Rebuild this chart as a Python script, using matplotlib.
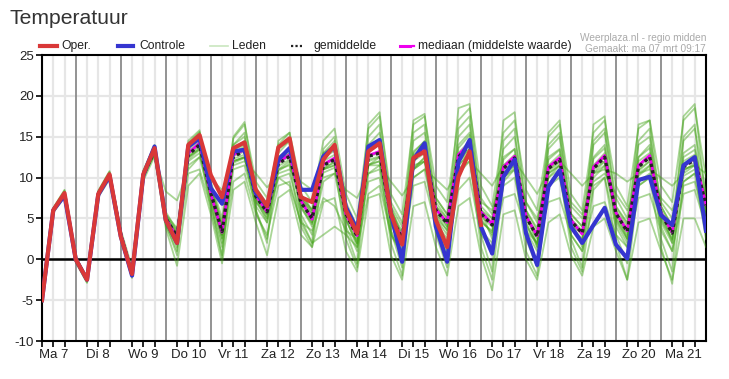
import numpy as np
import matplotlib
matplotlib.use('Agg')
import matplotlib.pyplot as plt
from matplotlib.lines import Line2D

plt.rcParams['font.family'] = ['Liberation Sans', 'DejaVu Sans']
plt.rcParams['axes.unicode_minus'] = False

## Data
# time in hours from Ma 7 00:00, one value every 6 hours
hours = list(range(6, 361, 6))
day_labels = ['Ma 7', 'Di 8', 'Wo 9', 'Do 10', 'Vr 11', 'Za 12', 'Zo 13', 'Ma 14',
              'Di 15', 'Wo 16', 'Do 17', 'Vr 18', 'Za 19', 'Zo 20', 'Ma 21']

# operational run (stops after ~10 days)
oper = [-5.0, 6.0, 8.1, 0.0, -2.5, 8.0, 10.4, 2.8, -1.8, 10.4, 13.6, 4.8,
        2.0, 14.0, 15.2, 10.3, 7.6, 13.6, 14.3, 8.5, 6.5, 13.7, 14.8, 7.6,
        7.0, 12.2, 14.0, 6.0, 3.2, 13.2, 14.2, 5.6, 1.8, 12.4, 13.2, 4.8,
        1.5, 10.1, 13.2, 4.2]

controle = [-5.0, 6.0, 7.8, 0.0, -2.5, 7.9, 10.2, 2.8, -2.0, 10.3, 13.8, 4.8,
            2.0, 13.8, 14.8, 8.7, 6.8, 13.2, 13.4, 8.1, 6.5, 12.2, 13.6, 8.5,
            8.5, 12.6, 13.8, 6.4, 3.6, 13.8, 14.6, 5.6, -0.3, 12.2, 14.2, 4.0,
            -0.3, 11.9, 14.6, 4.0, 0.7, 10.1, 12.2, 3.2, -0.7, 8.9, 10.9, 4.0,
            2.0, 4.2, 6.3, 1.8, 0.1, 9.7, 10.1, 5.4, 4.2, 11.5, 12.5, 3.5]

gemiddelde = [-5.0, 6.0, 8.0, 0.0, -2.5, 8.0, 10.3, 3.0, -1.8, 10.3, 13.3, 5.0,
              2.8, 12.8, 14.0, 8.1, 3.4, 12.6, 13.2, 7.7, 5.8, 11.7, 12.6, 7.0,
              5.0, 11.5, 12.2, 5.6, 2.8, 12.6, 13.0, 5.2, 2.6, 12.2, 13.4, 6.0,
              4.4, 12.5, 14.0, 5.6, 4.2, 11.1, 12.4, 5.2, 2.8, 11.1, 12.2, 4.7,
              3.2, 11.1, 12.5, 5.6, 3.4, 11.3, 12.5, 5.6, 3.2, 11.3, 12.2, 6.6]

mediaan = [-5.0, 6.0, 8.0, 0.0, -2.5, 8.0, 10.3, 3.0, -1.8, 10.3, 13.4, 5.0,
           2.7, 13.0, 14.2, 8.0, 3.3, 12.8, 13.4, 7.8, 5.8, 11.9, 12.8, 7.2,
           4.9, 11.6, 12.4, 5.5, 2.9, 12.7, 13.2, 5.1, 2.7, 12.4, 13.6, 6.1,
           4.5, 12.8, 14.2, 5.8, 4.3, 11.3, 12.6, 5.3, 2.9, 11.3, 12.4, 4.8,
           3.1, 11.3, 12.7, 5.7, 3.5, 11.5, 12.7, 5.7, 3.3, 11.4, 12.4, 6.7]

# ensemble members (leden)
leden = [
    [-4.8, 6.3, 8.5, 0.3, -2.3, 8.4, 10.8, 3.3, -1.4, 10.9, 13.9, 5.8,
     3.5, 14.0, 15.5, 9.5, 5.0, 14.8, 16.5, 9.5, 7.5, 14.0, 15.5, 9.0,
     7.0, 14.5, 16.0, 8.0, 5.0, 16.0, 17.5, 8.0, 5.5, 16.5, 17.5, 9.0,
     7.0, 17.0, 18.5, 9.0, 6.5, 15.5, 17.0, 8.5, 6.0, 15.0, 16.5, 8.0,
     6.0, 15.5, 17.0, 9.0, 6.5, 16.0, 17.0, 9.0, 7.0, 17.0, 18.5, 10.0],
    [-5.2, 5.7, 7.6, -0.4, -2.9, 7.6, 9.8, 2.5, -2.3, 9.6, 12.6, 3.8,
     -0.8, 9.0, 10.5, 5.5, -0.5, 8.5, 9.5, 4.5, 0.5, 7.5, 8.5, 3.0,
     1.5, 7.0, 7.5, 1.0, -1.5, 7.5, 8.0, 0.5, -2.5, 6.5, 7.0, 1.5,
     -2.0, 6.5, 7.5, 0.5, -3.8, 5.5, 6.0, 0.0, -2.5, 4.5, 5.5, 0.5,
     -2.0, 4.0, 5.0, 1.0, -2.5, 4.5, 5.0, 1.0, -2.5, 5.0, 5.0, 1.5],
    [-5.0, 6.1, 8.2, 0.1, -2.4, 8.2, 10.5, 3.2, -1.6, 10.6, 13.5, 5.3,
     3.2, 13.3, 14.6, 8.8, 4.0, 13.4, 14.0, 8.3, 6.5, 12.5, 13.5, 7.6,
     5.6, 12.4, 13.3, 6.3, 3.6, 13.5, 14.2, 6.0, 3.4, 13.2, 14.4, 7.0,
     5.0, 13.6, 15.2, 6.5, 5.0, 12.2, 13.5, 6.0, 3.8, 12.2, 13.4, 5.6,
     4.0, 12.3, 13.6, 6.4, 4.3, 12.5, 13.6, 6.5, 4.0, 12.5, 13.4, 7.5],
    [-5.0, 5.9, 7.9, -0.1, -2.6, 7.8, 10.1, 2.8, -2.0, 10.0, 13.0, 4.6,
     2.2, 12.2, 13.4, 7.4, 2.6, 11.8, 12.4, 7.0, 5.0, 10.8, 11.7, 6.3,
     4.3, 10.6, 11.2, 4.8, 1.9, 11.6, 12.0, 4.4, 1.7, 11.2, 12.4, 5.1,
     3.6, 11.5, 12.9, 4.7, 3.3, 10.0, 11.3, 4.4, 1.8, 10.0, 11.0, 3.8,
     2.4, 10.0, 11.4, 4.8, 2.5, 10.2, 11.4, 4.8, 2.4, 10.2, 11.0, 5.7],
    [-4.9, 6.2, 8.3, 0.2, -2.2, 8.3, 10.7, 3.6, -1.0, 10.8, 12.6, 8.3,
     7.2, 11.0, 12.5, 9.8, 8.5, 11.5, 12.0, 10.5, 8.8, 10.5, 11.0, 9.5,
     8.5, 10.0, 10.5, 8.5, 7.5, 10.5, 11.5, 9.5, 7.8, 10.0, 11.0, 9.8,
     8.5, 11.0, 12.0, 10.5, 9.0, 11.5, 12.0, 10.0, 8.0, 11.0, 12.0, 10.5,
     9.0, 10.5, 11.0, 10.5, 9.5, 10.5, 11.0, 10.0, 9.0, 10.5, 11.5, 10.5],
    [-5.0, 6.0, 8.0, 0.0, -2.5, 8.1, 10.2, 2.9, -1.9, 10.2, 13.1, 4.2,
     1.0, 10.5, 11.0, 6.5, 1.5, 9.5, 10.5, 5.5, 3.0, 9.0, 9.5, 4.5,
     3.5, 7.5, 6.5, 3.5, 2.5, 9.5, 10.0, 3.0, 0.5, 9.0, 9.5, 4.0,
     1.0, 8.5, 10.0, 3.0, 1.5, 7.5, 8.0, 3.5, 2.0, 7.0, 7.5, 3.0,
     1.0, 6.5, 7.0, 3.0, 1.5, 7.5, 8.0, 3.5, 1.0, 8.0, 8.5, 4.0],
    [-5.1, 6.2, 8.4, -0.3, -2.8, 8.2, 10.6, 2.6, -2.1, 10.7, 14.0, 4.3,
     0.5, 14.5, 15.8, 7.0, 0.2, 14.0, 15.5, 6.0, 2.0, 14.5, 15.5, 5.0,
     2.0, 13.5, 15.0, 3.5, -0.5, 15.0, 16.5, 3.5, -1.0, 15.5, 16.5, 4.0,
     0.5, 16.0, 17.5, 3.0, -1.5, 14.5, 16.0, 2.5, -1.0, 14.0, 15.5, 2.5,
     -1.0, 14.5, 16.0, 3.0, -0.5, 14.5, 16.0, 2.5, -1.5, 15.0, 16.5, 3.5],
    [-5.0, 6.1, 8.0, 0.0, -2.4, 8.0, 10.3, 3.1, -1.7, 10.4, 13.4, 5.5,
     3.8, 13.0, 14.2, 9.0, 4.5, 13.0, 13.8, 8.5, 6.8, 12.0, 13.0, 8.0,
     6.0, 11.0, 12.0, 6.5, 4.0, 11.5, 12.5, 7.0, 4.5, 11.5, 12.0, 7.5,
     5.5, 12.0, 13.0, 7.0, 6.0, 10.5, 11.5, 7.0, 5.0, 10.0, 11.5, 7.0,
     5.5, 9.5, 10.5, 8.0, 6.0, 9.5, 10.5, 7.5, 6.0, 9.5, 10.5, 8.0],
    [-5.0, 6.0, 8.1, 0.1, -2.5, 7.9, 10.4, 3.0, -1.8, 10.1, 13.2, 4.9,
     2.5, 13.5, 15.0, 8.0, 2.5, 13.5, 14.5, 7.5, 4.5, 12.5, 13.5, 6.5,
     4.0, 12.5, 13.5, 5.0, 1.5, 13.5, 14.5, 4.5, 1.0, 13.0, 14.5, 5.0,
     3.0, 14.0, 15.5, 5.0, 3.0, 12.5, 13.5, 4.5, 1.5, 12.5, 13.5, 4.0,
     2.0, 12.5, 14.0, 4.5, 2.0, 12.5, 14.0, 4.5, 2.0, 13.0, 14.0, 5.5],
    [-4.9, 6.0, 7.9, 0.0, -2.6, 8.0, 10.2, 3.0, -1.8, 10.3, 13.3, 5.1,
     3.0, 12.5, 13.5, 8.5, 3.8, 12.0, 12.5, 8.0, 6.0, 11.0, 12.0, 7.5,
     6.0, 11.0, 11.5, 6.0, 3.5, 11.5, 11.5, 6.0, 3.0, 11.0, 12.0, 6.5,
     5.0, 11.5, 13.0, 6.0, 5.0, 10.0, 11.0, 6.0, 3.5, 10.5, 11.5, 5.5,
     4.0, 11.0, 12.0, 6.5, 4.5, 11.0, 12.0, 6.5, 4.0, 11.0, 11.5, 7.0],
    [-5.0, 6.2, 8.2, 0.2, -2.3, 8.1, 10.5, 3.2, -1.6, 10.5, 13.6, 5.4,
     3.4, 13.8, 15.2, 9.0, 4.2, 14.0, 15.0, 8.8, 6.8, 13.0, 14.5, 8.0,
     6.0, 13.0, 14.0, 7.0, 4.0, 14.0, 15.5, 6.5, 4.0, 14.5, 15.5, 7.5,
     5.5, 15.0, 16.5, 7.5, 5.5, 13.5, 15.0, 7.0, 4.5, 13.5, 15.0, 6.5,
     5.0, 14.0, 15.5, 7.5, 5.0, 14.0, 15.0, 7.0, 5.0, 14.5, 16.0, 8.0],
    [-5.1, 5.8, 7.8, -0.2, -2.7, 7.8, 10.0, 2.7, -2.0, 9.9, 12.9, 4.4,
     1.8, 11.5, 12.5, 7.0, 2.0, 11.0, 11.5, 6.5, 4.5, 10.0, 10.5, 5.5,
     3.0, 9.5, 10.5, 4.0, 1.0, 10.5, 11.0, 3.5, 0.5, 10.0, 11.0, 4.5,
     2.5, 10.5, 12.0, 3.5, 2.0, 9.0, 10.0, 3.5, 1.0, 9.0, 10.0, 3.0,
     1.0, 9.0, 10.0, 4.0, 1.5, 9.0, 10.0, 4.0, 1.0, 9.0, 9.5, 4.5],
    [-5.0, 6.0, 8.0, 0.0, -2.5, 8.0, 10.3, 3.0, -1.8, 10.3, 13.3, 5.0,
     2.8, 12.8, 14.0, 8.1, 3.4, 12.6, 13.2, 7.7, 5.8, 11.7, 12.6, 7.0,
     5.0, 11.5, 12.2, 5.6, 2.8, 12.6, 13.0, 5.2, 2.6, 12.2, 13.4, 6.0,
     4.4, 12.5, 14.0, 5.6, 4.2, 11.1, 12.4, 5.2, 2.8, 11.1, 12.2, 4.7,
     3.2, 11.1, 12.5, 5.6, 3.4, 11.3, 12.5, 5.6, 3.2, 11.3, 12.2, 6.6],
    [-5.0, 6.0, 8.0, 0.0, -2.5, 8.0, 10.3, 3.0, -1.8, 10.2, 13.2, 4.8,
     2.5, 12.0, 13.0, 7.5, 3.0, 12.0, 12.5, 7.0, 5.5, 10.0, 9.0, 4.5,
     2.0, 3.0, 4.0, 3.0, 1.5, 8.0, 9.0, 3.0, 1.0, 11.0, 12.5, 5.5,
     3.5, 12.0, 13.5, 4.5, 3.5, 10.5, 11.5, 4.0, 2.0, 10.5, 11.5, 4.0,
     2.5, 10.5, 11.5, 5.0, 2.5, 10.5, 11.5, 5.0, 2.5, 11.0, 11.5, 6.0],
    [-5.0, 6.1, 8.1, 0.1, -2.4, 8.1, 10.4, 3.1, -1.7, 10.5, 13.8, 5.2,
     3.0, 14.2, 15.6, 8.5, 3.0, 15.0, 16.8, 8.0, 5.0, 13.5, 14.5, 7.5,
     4.5, 13.0, 14.5, 6.0, 2.0, 16.5, 18.0, 6.5, 2.5, 17.0, 17.8, 6.5,
     4.0, 18.5, 19.0, 6.0, 2.5, 17.0, 18.0, 6.0, 1.5, 15.5, 17.0, 5.0,
     1.5, 16.5, 17.5, 6.0, 2.5, 16.5, 17.0, 6.0, 2.0, 17.5, 19.0, 7.0],
    [-5.0, 5.9, 7.9, -0.1, -2.6, 7.9, 10.1, 2.9, -1.9, 10.1, 13.0, 4.5,
     1.5, 12.5, 13.5, 6.0, 0.5, 12.0, 12.5, 6.0, 2.5, 11.0, 11.5, 4.0,
     1.5, 11.0, 11.5, 2.5, -1.0, 11.5, 12.0, 2.0, -2.0, 11.0, 12.0, 3.0,
     -1.0, 11.0, 12.5, 1.5, -2.5, 9.5, 11.0, 1.0, -2.0, 9.0, 10.5, 1.5,
     -1.5, 8.5, 10.0, 2.0, -2.5, 9.0, 10.0, 1.5, -3.0, 9.5, 10.5, 2.5],
    [-5.0, 6.0, 8.1, 0.0, -2.5, 8.0, 10.3, 3.0, -1.8, 10.3, 13.4, 5.1,
     3.0, 13.0, 14.3, 8.0, 3.0, 12.8, 13.6, 8.0, 6.0, 12.0, 13.0, 7.5,
     5.5, 12.0, 12.8, 5.0, 2.0, 12.0, 12.5, 5.5, 3.0, 12.8, 13.8, 6.5,
     4.5, 13.0, 14.5, 6.0, 4.5, 11.5, 12.8, 5.5, 3.0, 11.5, 12.8, 5.0,
     3.5, 11.5, 13.0, 6.0, 4.0, 12.0, 13.0, 6.0, 3.5, 12.0, 12.8, 7.0],
    [-5.0, 6.0, 7.9, -0.1, -2.5, 8.0, 10.2, 2.9, -1.9, 10.2, 13.2, 4.8,
     2.6, 12.5, 13.8, 7.8, 3.6, 12.3, 12.8, 7.4, 5.5, 11.4, 12.2, 6.6,
     4.5, 11.2, 11.8, 5.8, 3.0, 12.2, 12.6, 4.8, 2.2, 12.0, 13.0, 5.6,
     4.0, 12.0, 13.6, 5.2, 4.0, 10.8, 12.0, 5.0, 2.5, 10.8, 11.8, 4.4,
     3.0, 10.6, 12.0, 5.2, 3.0, 10.8, 12.0, 5.2, 3.0, 10.8, 11.8, 6.2],
]

## Figure
fig = plt.figure(figsize=(7.29, 3.79), dpi=100)
ax = fig.add_axes([42 / 729, 1 - 341 / 379, 664 / 729, 286 / 379])

# grid: light lines every 6 h and every 5 degrees, dark lines at midnight
for h in range(6, 360, 6):
    if h % 24 == 0:
        ax.axvline(h, color='#8a8a8a', lw=1.3, zorder=1)
    else:
        ax.axvline(h, color='#e6e6e6', lw=1.6, zorder=0)
for t in range(-5, 25, 5):
    ax.axhline(t, color='#e6e6e6', lw=1.6, zorder=0)
ax.axhline(0, color='black', lw=1.8, zorder=2)

# members
for m in leden:
    ax.plot(hours, m, color='#42a416', lw=1.3, alpha=0.45, zorder=3)

ax.plot(hours, mediaan, color='#ee00ee', lw=2.0, zorder=4)
ax.plot(hours, gemiddelde, color='#222222', lw=2.4, ls=(0, (1, 1)), zorder=5)
ax.plot(hours[:len(controle)], controle, color='#3535d0', lw=3.0, zorder=6)
ax.plot(hours[:len(oper)], oper, color='#d93838', lw=3.0, zorder=7)

ax.set_xlim(6, 360)
ax.set_ylim(-10, 25)
ax.set_yticks(range(-10, 26, 5))
ax.set_xticks([12 + 24 * d for d in range(len(day_labels))])
ax.set_xticklabels(day_labels)
ax.set_xticks([h for h in range(6, 360, 6) if h % 24 in (6, 18)], minor=True)
ax.tick_params(axis='both', which='both', direction='out', length=4, width=1.2,
               color='black', labelsize=9.5, labelcolor='#222222', pad=2)
for s in ax.spines.values():
    s.set_color('black')
    s.set_linewidth(1.5)

# title
fig.text(9 / 729, 1 - 18 / 379, 'Temperatuur', fontsize=15.2, color='#333333',
         va='center', ha='left')

# legend drawn by hand above the axes
ly = 1 - 46 / 379
def leg_item(x0, x1, xt, label, **kw):
    fig.add_artist(Line2D([x0 / 729, x1 / 729], [ly, ly], transform=fig.transFigure, **kw))
    fig.text(xt / 729, ly, label, fontsize=8.7, color='#222222', va='center', ha='left')

leg_item(40, 57, 61, 'Oper.', color='#d93838', lw=3)
leg_item(118, 133, 139, 'Controle', color='#3535d0', lw=3)
leg_item(210, 228, 232, 'Leden', color='#c9e6bf', lw=1.2)
leg_item(291, 302, 313, 'gemiddelde', color='#222222', lw=1.6, ls=(0, (1, 1)))
leg_item(400, 410, 418, 'mediaan (middelste waarde)', color='#ee00ee', lw=2.2)
fig.add_artist(Line2D([413 / 729, 414.5 / 729], [ly, ly], transform=fig.transFigure,
                      color='#ee00ee', lw=1.6))

# source text
fig.text(706 / 729, 1 - 38 / 379, 'Weerplaza.nl - regio midden', fontsize=7.3,
         color='#aaaaaa', ha='right', va='center')
fig.text(706 / 729, 1 - 49 / 379, 'Gemaakt: ma 07 mrt 09:17', fontsize=7.3,
         color='#aaaaaa', ha='right', va='center')

fig.savefig('out.png', dpi=100)
